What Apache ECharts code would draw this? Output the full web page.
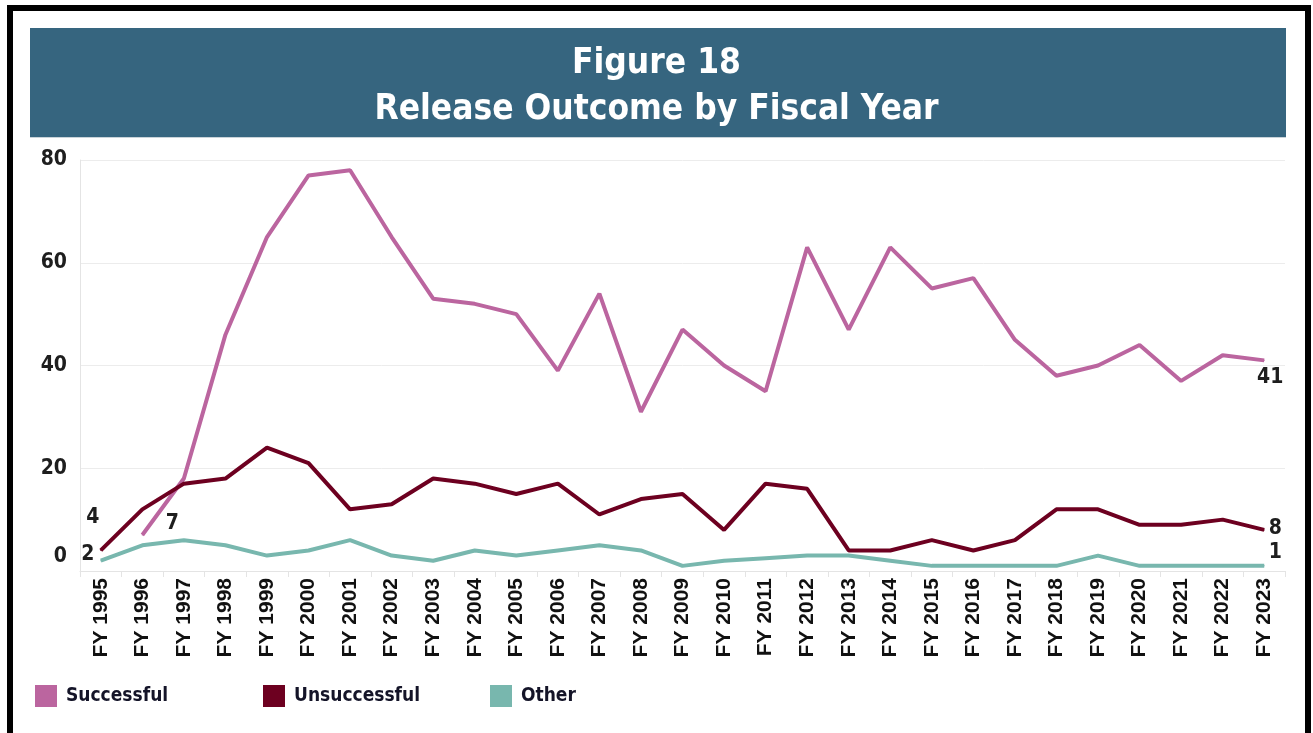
<!DOCTYPE html>
<html>
<head>
<meta charset="utf-8">
<script src="https://cdn.jsdelivr.net/npm/echarts@6/dist/echarts.min.js"></script>
<style>
  html, body { margin: 0; padding: 0; background: #ffffff; }
  #frame { position: absolute; left: 7px; top: 5px; width: 1304px; height: 800px; border: 6px solid #000; box-sizing: border-box; pointer-events: none; z-index: 2; }
  #chart { position: absolute; left: 0; top: 0; width: 1313px; height: 733px; }
</style>
</head>
<body>
<div id="chart"></div>
<div id="frame"></div>
<script>
const categories = ['FY 1995','FY 1996','FY 1997','FY 1998','FY 1999','FY 2000','FY 2001','FY 2002','FY 2003','FY 2004',
  'FY 2005','FY 2006','FY 2007','FY 2008','FY 2009','FY 2010','FY 2011','FY 2012','FY 2013','FY 2014',
  'FY 2015','FY 2016','FY 2017','FY 2018','FY 2019','FY 2020','FY 2021','FY 2022','FY 2023'];
const successful = [null, 7, 18, 46, 65, 77, 78, 65, 53, 52, 50, 39, 54, 31, 47, 40, 35, 63, 47, 63, 55, 57, 45, 38, 40, 44, 37, 42, 41];
const unsuccessful = [4, 12, 17, 18, 24, 21, 12, 13, 18, 17, 15, 17, 11, 14, 15, 8, 17, 16, 4, 4, 6, 4, 6, 12, 12, 9, 9, 10, 8];
const other = [2, 5, 6, 5, 3, 4, 6, 3, 2, 4, 3, 4, 5, 4, 1, 2, 2.5, 3, 3, 2, 1, 1, 1, 1, 3, 1, 1, 1, 1];
const yTicks = [0, 20, 40, 60, 80];
const titleLines = ['Figure 18', 'Release Outcome by Fiscal Year'];

const condensed = '"DejaVu Sans Condensed", "DejaVu Sans", sans-serif';
const labelFont = { fontFamily: condensed, fontWeight: 'bold', fontSize: 21, color: '#1e1e1e' };

// label placement for first / last points (style only)
function buildData(values, firstOffset, lastOffset) {
  const firstIdx = values.findIndex(v => v !== null);
  const lastIdx = values.length - 1;
  return values.map((v, i) => {
    if (i === firstIdx || i === lastIdx) {
      return { value: v, label: Object.assign({ show: true, position: 'inside', offset: i === firstIdx ? firstOffset : lastOffset }, labelFont) };
    }
    return v;
  });
}

const chart = echarts.init(document.getElementById('chart'));
const lineCommon = { type: 'line', symbol: 'circle', symbolSize: 1, showSymbol: true, showAllSymbol: true, connectNulls: false, label: { show: false }, emphasis: { disabled: true } };

chart.setOption({
  animation: false,
  title: titleLines.map((t, i) => ({
    text: t,
    left: 'center',
    top: i === 0 ? 41 : 87,
    padding: 0,
    textStyle: { color: '#ffffff', fontFamily: condensed, fontWeight: 'bold', fontSize: 35, lineHeight: 46 }
  })),
  graphic: [
    { type: 'rect', left: 30, top: 28, z: -1, shape: { width: 1256, height: 109 }, style: { fill: '#36657f' } },
    { type: 'rect', left: 30, top: 137, z: -1, shape: { width: 1256, height: 1 }, style: { fill: '#c9d3d9' } }
  ],
  legend: [
    { data: ['Successful'], left: 35, top: 685 },
    { data: ['Unsuccessful'], left: 263, top: 685 },
    { data: ['Other'], left: 490, top: 685 }
  ].map(l => Object.assign(l, { padding: 0, icon: 'rect', itemWidth: 22, itemHeight: 22, textStyle: { fontFamily: condensed, fontWeight: 'bold', fontSize: 19, color: '#141428', padding: [0, 0, 0, 4] } })),
  grid: { left: 80, right: 28, top: 160, bottom: 162 },
  xAxis: {
    type: 'category',
    data: categories,
    boundaryGap: true,
    axisLine: { lineStyle: { color: '#e4e4e4', width: 1 } },
    axisTick: { show: true, interval: 0, length: 6, lineStyle: { color: '#e4e4e4' } },
    axisLabel: { interval: 0, rotate: 90, margin: 7, fontFamily: '"Liberation Sans", Arial, sans-serif', fontWeight: 'bold', fontSize: 21, color: '#111111' },
    splitLine: { show: false }
  },
  yAxis: {
    type: 'value',
    min: yTicks[0],
    max: yTicks[yTicks.length - 1],
    interval: yTicks[1] - yTicks[0],
    axisLine: { show: true, lineStyle: { color: '#e4e4e4' } },
    axisTick: { show: false },
    splitLine: { lineStyle: { color: '#ececec', width: 1 } },
    axisLabel: {
      margin: 13,
      formatter: v => v === 0 ? '{z|0}' : '{n|' + v + '}',
      rich: {
        z: { fontFamily: condensed, fontWeight: 'bold', fontSize: 21, color: '#1e1e1e', padding: [0, 0, 28, 0] },
        n: { fontFamily: condensed, fontWeight: 'bold', fontSize: 21, color: '#1e1e1e' }
      }
    }
  },
  series: [
    Object.assign({}, lineCommon, { name: 'Successful', data: buildData(successful, [30, -11], [6, 17]), lineStyle: { color: '#bb659f', width: 4 }, itemStyle: { color: '#bb659f' } }),
    Object.assign({}, lineCommon, { name: 'Unsuccessful', data: buildData(unsuccessful, [-8, -33], [11, -1]), lineStyle: { color: '#6d0020', width: 4 }, itemStyle: { color: '#6d0020' } }),
    Object.assign({}, lineCommon, { name: 'Other', data: buildData(other, [-13, -6], [11, -13]), lineStyle: { color: '#78b7ae', width: 4 }, itemStyle: { color: '#78b7ae' } })
  ]
});
</script>
</body>
</html>
